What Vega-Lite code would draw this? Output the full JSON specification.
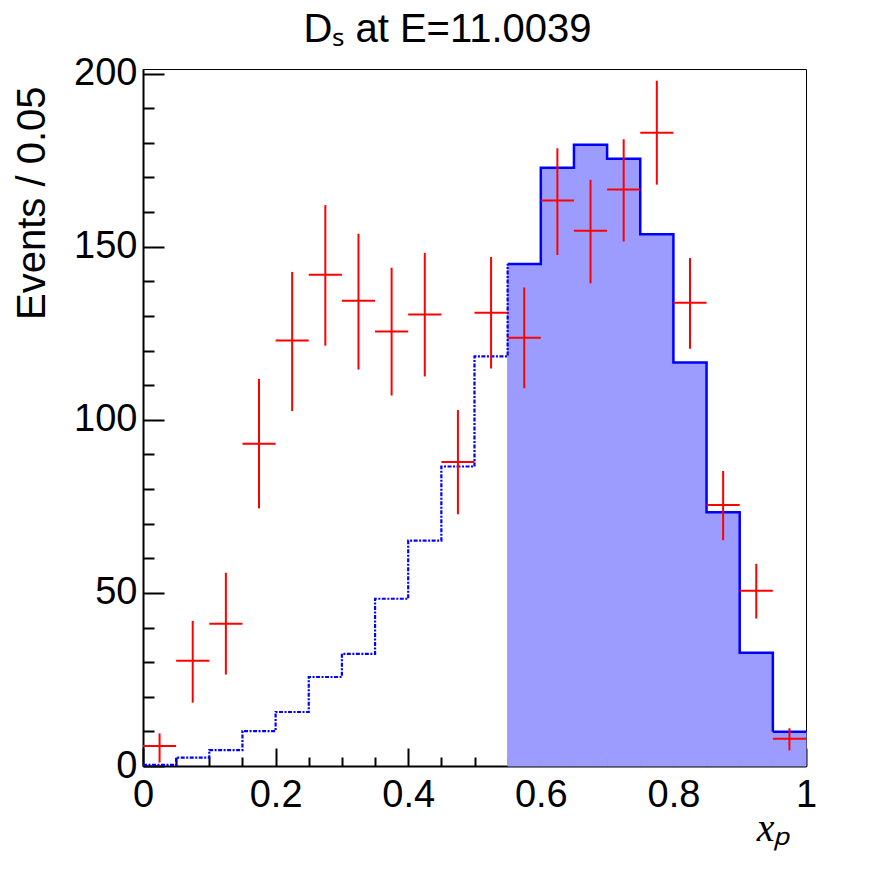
{
  "$schema": "https://vega.github.io/schema/vega-lite/v6.json",
  "autosize": "none",
  "width": 663,
  "height": 697,
  "padding": {"left": 143, "top": 69, "right": 90, "bottom": 106},
  "background": "white",
  "config": {
    "view": {"stroke": "black", "strokeWidth": 1},
    "font": "Liberation Sans",
    "axis": {
      "grid": false,
      "labelFont": "Liberation Sans",
      "labelFontSize": 38,
      "labelColor": "black",
      "domainColor": "black",
      "domainWidth": 2,
      "tickColor": "black",
      "tickWidth": 2
    }
  },
  "title": {
    "text": "Dₛ at E=11.0039",
    "font": "Liberation Sans",
    "fontSize": 40,
    "fontWeight": "normal",
    "color": "black",
    "anchor": "middle",
    "dx": -27,
    "offset": 5
  },
  "datasets": {
    "bins": [
      {"lo": 0.0, "hi": 0.05, "xc": 0.025, "mc": 0.3, "val": 5.8, "vlo": 1.0, "vhi": 9.4},
      {"lo": 0.05, "hi": 0.1, "xc": 0.075, "mc": 2.4, "val": 30.4, "vlo": 18.3, "vhi": 41.9},
      {"lo": 0.1, "hi": 0.15, "xc": 0.125, "mc": 4.6, "val": 41.1, "vlo": 26.4, "vhi": 55.8},
      {"lo": 0.15, "hi": 0.2, "xc": 0.175, "mc": 10.1, "val": 93.1, "vlo": 74.4, "vhi": 111.8},
      {"lo": 0.2, "hi": 0.25, "xc": 0.225, "mc": 15.6, "val": 122.9, "vlo": 102.5, "vhi": 142.7},
      {"lo": 0.25, "hi": 0.3, "xc": 0.275, "mc": 25.7, "val": 141.9, "vlo": 121.4, "vhi": 162.0},
      {"lo": 0.3, "hi": 0.35, "xc": 0.325, "mc": 32.4, "val": 134.4, "vlo": 114.5, "vhi": 153.7},
      {"lo": 0.35, "hi": 0.4, "xc": 0.375, "mc": 48.3, "val": 125.5, "vlo": 107.0, "vhi": 143.9},
      {"lo": 0.4, "hi": 0.45, "xc": 0.425, "mc": 65.1, "val": 130.4, "vlo": 112.5, "vhi": 148.2},
      {"lo": 0.45, "hi": 0.5, "xc": 0.475, "mc": 86.5, "val": 87.8, "vlo": 72.7, "vhi": 102.8},
      {"lo": 0.5, "hi": 0.55, "xc": 0.525, "mc": 118.3, "val": 130.9, "vlo": 114.8, "vhi": 147.0},
      {"lo": 0.55, "hi": 0.6, "xc": 0.575, "mc": 145.0, "val": 123.7, "vlo": 109.1, "vhi": 138.2},
      {"lo": 0.6, "hi": 0.65, "xc": 0.625, "mc": 172.8, "val": 163.3, "vlo": 147.6, "vhi": 178.4},
      {"lo": 0.65, "hi": 0.7, "xc": 0.675, "mc": 179.4, "val": 154.6, "vlo": 139.4, "vhi": 169.3},
      {"lo": 0.7, "hi": 0.75, "xc": 0.725, "mc": 175.4, "val": 166.5, "vlo": 151.5, "vhi": 181.0},
      {"lo": 0.75, "hi": 0.8, "xc": 0.775, "mc": 153.6, "val": 182.9, "vlo": 167.9, "vhi": 197.9},
      {"lo": 0.8, "hi": 0.85, "xc": 0.825, "mc": 116.5, "val": 133.8, "vlo": 120.5, "vhi": 146.7},
      {"lo": 0.85, "hi": 0.9, "xc": 0.875, "mc": 73.3, "val": 75.4, "vlo": 65.2, "vhi": 85.2},
      {"lo": 0.9, "hi": 0.95, "xc": 0.925, "mc": 32.7, "val": 50.6, "vlo": 42.6, "vhi": 58.4},
      {"lo": 0.95, "hi": 1.0, "xc": 0.975, "mc": 9.9, "val": 7.9, "vlo": 4.5, "vhi": 10.9}
    ]
  },
  "data": {"name": "bins"},
  "resolve": {"axis": {"x": "independent", "y": "independent"}},
  "layer": [
    {
      "transform": [{"filter": "datum.lo >= 0.55"}],
      "mark": {"type": "rect", "fill": "#9c9cff", "stroke": "#9c9cff", "strokeWidth": 1},
      "encoding": {
        "x": {
          "field": "lo", "type": "quantitative",
          "scale": {"domain": [0, 1], "nice": false, "zero": false},
          "axis": {
            "orient": "bottom",
            "values": [0, 0.2, 0.4, 0.6, 0.8, 1],
            "format": "~g",
            "tickSize": -18,
            "labelPadding": 28,
            "labelFlush": false,
            "title": "xₚ",
            "titleFont": "Liberation Serif",
            "titleFontStyle": "italic",
            "titleFontWeight": "normal",
            "titleFontSize": 40,
            "titleColor": "black",
            "titleAlign": "right",
            "titleBaseline": "alphabetic",
            "titleX": 647,
            "titleY": 74
          }
        },
        "x2": {"field": "hi"},
        "y": {
          "field": "mc", "type": "quantitative",
          "scale": {"domain": [0, 201.3], "nice": false, "zero": true},
          "axis": {
            "orient": "left",
            "values": [0, 50, 100, 150, 200],
            "tickSize": -21,
            "labelPadding": 27,
            "title": "Events / 0.05",
            "titleFont": "Liberation Sans",
            "titleFontWeight": "normal",
            "titleFontSize": 40,
            "titleColor": "black",
            "titleAngle": -90,
            "titleAlign": "right",
            "titleBaseline": "middle",
            "titleX": -111,
            "titleY": 17
          }
        },
        "y2": {"datum": 0}
      }
    },
    {
      "transform": [{"filter": "datum.lo <= 0.55"}],
      "mark": {"type": "line", "interpolate": "step-after", "color": "blue", "strokeWidth": 2.2, "strokeDash": [4, 1.5, 2, 1.5]},
      "encoding": {
        "x": {
          "field": "lo", "type": "quantitative",
          "scale": {"domain": [0, 1], "nice": false, "zero": false},
          "axis": {
            "orient": "bottom",
            "values": [0.05, 0.1, 0.15, 0.25, 0.3, 0.35, 0.45, 0.5, 0.55, 0.65, 0.7, 0.75, 0.85, 0.9, 0.95],
            "tickSize": -9,
            "labels": false,
            "domain": false,
            "title": null
          }
        },
        "y": {
          "field": "mc", "type": "quantitative",
          "scale": {"domain": [0, 201.3], "nice": false, "zero": true},
          "axis": {
            "orient": "left",
            "values": [10, 20, 30, 40, 60, 70, 80, 90, 110, 120, 130, 140, 160, 170, 180, 190],
            "tickSize": -11,
            "labels": false,
            "domain": false,
            "title": null
          }
        }
      }
    },
    {
      "transform": [{"filter": "datum.lo >= 0.55"}],
      "mark": {"type": "line", "interpolate": "step-after", "color": "blue", "strokeWidth": 2.5},
      "encoding": {
        "x": {"field": "lo", "type": "quantitative", "axis": null},
        "y": {"field": "mc", "type": "quantitative", "axis": null}
      }
    },
    {
      "transform": [{"filter": "datum.lo >= 0.95"}],
      "mark": {"type": "rule", "color": "blue", "strokeWidth": 2.5},
      "encoding": {
        "x": {"field": "lo", "type": "quantitative", "axis": null},
        "x2": {"field": "hi"},
        "y": {"field": "mc", "type": "quantitative", "axis": null}
      }
    },
    {
      "mark": {"type": "rule", "color": "red", "strokeWidth": 2},
      "encoding": {
        "x": {"field": "lo", "type": "quantitative", "axis": null},
        "x2": {"field": "hi"},
        "y": {"field": "val", "type": "quantitative", "axis": null}
      }
    },
    {
      "mark": {"type": "rule", "color": "red", "strokeWidth": 2},
      "encoding": {
        "x": {"field": "xc", "type": "quantitative", "axis": null},
        "y": {"field": "vlo", "type": "quantitative", "axis": null},
        "y2": {"field": "vhi"}
      }
    }
  ]
}
